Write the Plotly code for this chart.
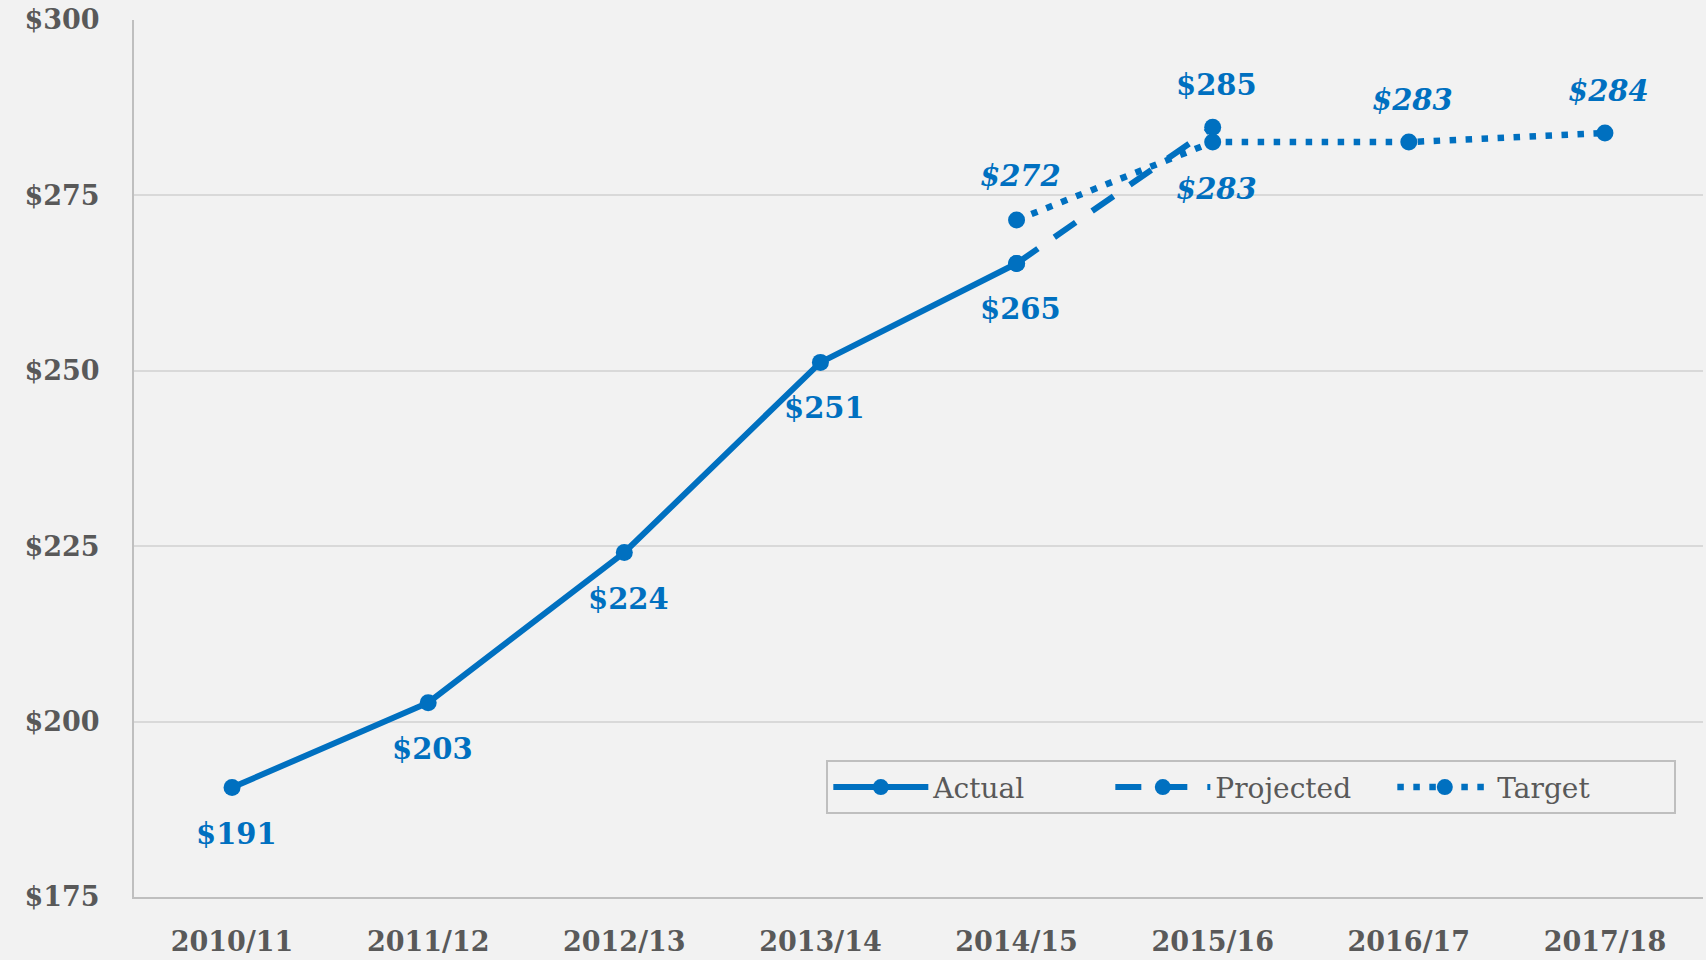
import plotly.graph_objects as go

categories = ["2010/11", "2011/12", "2012/13", "2013/14", "2014/15", "2015/16", "2016/17", "2017/18"]
actual_x = ["2010/11", "2011/12", "2012/13", "2013/14", "2014/15"]
actual_y = [190.6, 202.7, 224.1, 251.2, 265.3]
projected_x = ["2014/15", "2015/16"]
projected_y = [265.3, 284.7]
target_x = ["2014/15", "2015/16", "2016/17", "2017/18"]
target_y = [271.5, 282.6, 282.6, 283.9]
y_ticks = [175, 200, 225, 250, 275, 300]
y_tick_labels = ["$175", "$200", "$225", "$250", "$275", "$300"]

BLUE = "#0070C0"
GREY = "#595959"
FONT = "DejaVu Serif"

fig = go.Figure()
fig.add_trace(go.Scatter(x=actual_x, y=actual_y, name="Actual", mode="lines+markers",
                         line=dict(color=BLUE, width=6), marker=dict(color=BLUE, size=17)))
fig.add_trace(go.Scatter(x=projected_x, y=projected_y, name="Projected", mode="lines+markers",
                         line=dict(color=BLUE, width=6, dash="26px,20px"), marker=dict(color=BLUE, size=17)))
fig.add_trace(go.Scatter(x=target_x, y=target_y, name="Target", mode="lines+markers",
                         line=dict(color=BLUE, width=6.5, dash="6.5px,9.5px"), marker=dict(color=BLUE, size=17)))

annotations = []
def lab(x, y, shift, italic=False):
    txt = "<b>$%d</b>" % round(y)
    if italic:
        txt = "<b><i>$%d</i></b>" % round(y)
    annotations.append(dict(x=x, y=y, xref="x", yref="y", text=txt, showarrow=False,
                            yshift=shift, xshift=4, font=dict(family=FONT, size=29, color=BLUE)))

for x, y in zip(actual_x, actual_y):
    lab(x, y, -46)
lab(projected_x[1], projected_y[1], 42)
target_shifts = [44, -47, 42, 42]
for x, y, s in zip(target_x, target_y, target_shifts):
    lab(x, y, s, italic=True)

fig.update_layout(
    width=1706, height=960,
    margin=dict(l=134, r=3, t=20, b=59),
    paper_bgcolor="#F2F2F2", plot_bgcolor="#F2F2F2",
    showlegend=True,
    hovermode=False,
    annotations=annotations,
    legend=dict(orientation="h", x=0.983, xanchor="right", y=0.125, yanchor="middle",
                bgcolor="#F2F2F2", bordercolor="#BFBFBF", borderwidth=2,
                font=dict(family=FONT, size=28, color=GREY), itemwidth=95,
                entrywidth=172, entrywidthmode="pixels",
                traceorder="normal"),
)
fig.update_xaxes(type="category", categoryorder="array", categoryarray=categories,
                 range=[-0.5, 7.5], showgrid=False, showline=True, linecolor="#BFBFBF", linewidth=2,
                 ticks="", tickfont=dict(family=FONT, size=27, color=GREY, weight="bold"),
                 ticklabelstandoff=20, zeroline=False)
fig.update_yaxes(range=[175, 300], tickvals=y_ticks, ticktext=y_tick_labels,
                 showgrid=True, gridcolor="#D9D9D9", gridwidth=2,
                 showline=True, linecolor="#BFBFBF", linewidth=2,
                 ticks="", tickfont=dict(family=FONT, size=27, color=GREY, weight="bold"),
                 ticklabelstandoff=27, zeroline=False)

fig.write_html("out.html", config={"displayModeBar": False},
               post_script="document.body.style.margin='0';")
